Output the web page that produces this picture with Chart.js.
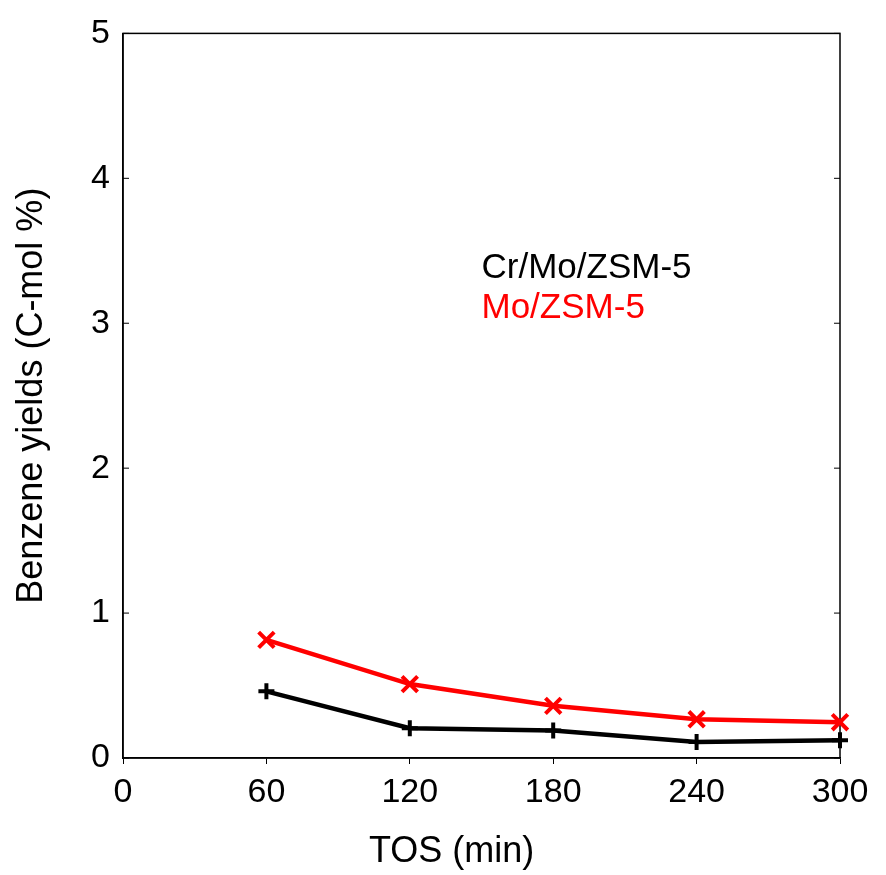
<!DOCTYPE html>
<html>
<head>
<meta charset="utf-8">
<script src="https://cdn.jsdelivr.net/npm/chart.js@4.4.0/dist/chart.umd.min.js"></script>
<style>
    html, body { margin: 0; padding: 0; background: #fff; }
</style>
</head>
<body>
<canvas id="chart" width="886" height="875"></canvas>
<script>
// values
const tos = [60, 120, 180, 240, 300];
const crMoYield = [0.46, 0.205, 0.19, 0.11, 0.123];
const moYield = [0.815, 0.51, 0.36, 0.267, 0.247];
const xTicks = [0, 60, 120, 180, 240, 300];
const yTicks = [0, 1, 2, 3, 4, 5];
const seriesNames = ['Cr/Mo/ZSM-5', 'Mo/ZSM-5'];
const seriesColors = ['#000000', '#ff0000'];
const xTitle = 'TOS (min)';

const FONT = "'Liberation Sans', Arial, sans-serif";

// box around the plot + inward ticks on the y sides
const framePlugin = {
    id: 'frame',
    beforeDatasetsDraw(chart) {
        const { ctx, chartArea: a, scales } = chart;
        ctx.save();
        ctx.strokeStyle = '#000';
        ctx.lineWidth = 1.5;
        ctx.strokeRect(a.left, a.top, a.right - a.left, a.bottom - a.top);
        ctx.lineWidth = 1;
        yTicks.forEach(v => {
            const y = scales.y.getPixelForValue(v);
            ctx.beginPath();
            ctx.moveTo(a.left, y);
            ctx.lineTo(a.left + 6, y);
            ctx.moveTo(a.right, y);
            ctx.lineTo(a.right - 6, y);
            ctx.stroke();
        });
        ctx.restore();
    }
};

// text legend inside the plot, and the x title (sits a bit left of centre in the original)
const textLegend = {
    id: 'textLegend',
    afterDraw(chart) {
        const { ctx, scales } = chart;
        const x = scales.x.getPixelForValue(150);
        const ys = [3.38, 3.1];
        ctx.save();
        ctx.font = '35px ' + FONT;
        ctx.textAlign = 'left';
        ctx.textBaseline = 'middle';
        seriesNames.forEach((name, i) => {
            ctx.fillStyle = seriesColors[i];
            ctx.fillText(name, x, scales.y.getPixelForValue(ys[i]));
        });
        ctx.font = '36px ' + FONT;
        ctx.fillStyle = '#000';
        ctx.textAlign = 'center';
        ctx.fillText(xTitle, scales.x.getPixelForValue(137.5), 852);
        ctx.restore();
    }
};

const ctx = document.getElementById('chart').getContext('2d');

new Chart(ctx, {
    type: 'line',
    data: {
        labels: tos,
        datasets: [
            {
                label: seriesNames[0],
                data: tos.map((t, i) => ({ x: t, y: crMoYield[i] })),
                borderColor: seriesColors[0],
                backgroundColor: seriesColors[0],
                borderWidth: 4.5,
                pointStyle: 'cross',
                pointRadius: 8,
                pointBorderWidth: 4,
                tension: 0,
                fill: false,
                clip: false
            },
            {
                label: seriesNames[1],
                data: tos.map((t, i) => ({ x: t, y: moYield[i] })),
                borderColor: seriesColors[1],
                backgroundColor: seriesColors[1],
                borderWidth: 4.5,
                pointStyle: 'crossRot',
                pointRadius: 11,
                pointBorderWidth: 4,
                tension: 0,
                fill: false,
                clip: false
            }
        ]
    },
    options: {
        responsive: false,
        animation: false,
        layout: { padding: { top: 28, right: 46, left: 0, bottom: 0 } },
        plugins: {
            legend: { display: false },
            tooltip: { enabled: false }
        },
        scales: {
            x: {
                type: 'linear',
                min: 0,
                max: 300,
                afterBuildTicks: s => { s.ticks = xTicks.map(v => ({ value: v })); },
                afterFit: s => { s.height = 117; },
                grid: { drawOnChartArea: false, drawTicks: true, tickLength: 6, color: '#000' },
                border: { display: true, color: '#000', width: 1.5 },
                ticks: { color: '#000', font: { family: FONT, size: 34 }, padding: 8, maxRotation: 0 },
                title: { display: false }
            },
            y: {
                min: 0,
                max: 5,
                afterBuildTicks: s => { s.ticks = yTicks.map(v => ({ value: v })); },
                afterFit: s => { s.width = 123; },
                grid: { drawOnChartArea: false, drawTicks: false },
                border: { display: true, color: '#000', width: 1.5 },
                ticks: { color: '#000', font: { family: FONT, size: 34 }, padding: 13 },
                title: {
                    display: true,
                    text: 'Benzene yields (C-mol %)',
                    color: '#000',
                    font: { family: FONT, size: 36 },
                    padding: { top: 10, bottom: 0 }
                }
            }
        }
    },
    plugins: [framePlugin, textLegend]
});
</script>
</body>
</html>
